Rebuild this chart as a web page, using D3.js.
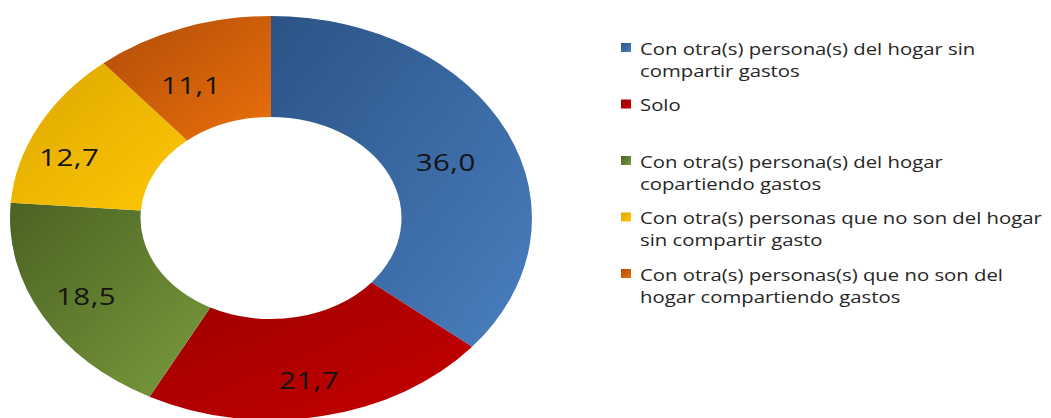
<!DOCTYPE html>
<html>
<head>
<meta charset="utf-8">
<script src="https://cdn.jsdelivr.net/npm/d3@7"></script>
<style>
  html, body { margin: 0; padding: 0; background: #fff; }
  svg { display: block; }
</style>
</head>
<body>
<svg id="chart" width="1051" height="418"></svg>
<script>
// Share of people by living arrangement (%)
const categories = [
  "Con otra(s) persona(s) del hogar sin compartir gastos",
  "Solo",
  "Con otra(s) persona(s) del hogar copartiendo gastos",
  "Con otra(s) personas que no son del hogar sin compartir gasto",
  "Con otra(s) personas(s) que no son del hogar compartiendo gastos"
];
const values = [36.0, 21.7, 18.5, 12.7, 11.1];
const valueLabels = ["36,0", "21,7", "18,5", "12,7", "11,1"];
// Legend text split into lines
const legendLines = [
  ["Con otra(s) persona(s) del hogar sin", "compartir gastos"],
  ["Solo"],
  ["Con otra(s) persona(s) del hogar", "copartiendo gastos"],
  ["Con otra(s) personas que no son del hogar", "sin compartir gasto"],
  ["Con otra(s) personas(s) que no son del", "hogar compartiendo gastos"]
];
// Dark / light stops of each slice's shading
const darkColors  = ["#2b5386", "#9c0000", "#4a6224", "#dca600", "#b04c08"];
const lightColors = ["#4a7fbf", "#c60000", "#7a9c3c", "#ffc805", "#ea700b"];

const svg = d3.select("#chart");
const cx = 271, cy = 218;
const rx = 261, ry = 202;          // elliptical donut
const inner = 0.5;                 // hole size relative to outer radius
const stretch = 1.27;              // wide text rendering

const defs = svg.append("defs");
categories.forEach((c, i) => {
  const g = defs.append("linearGradient")
    .attr("id", "grad" + i)
    .attr("x1", 0).attr("y1", 0).attr("x2", 1).attr("y2", 1);
  g.append("stop").attr("offset", "0%").attr("stop-color", darkColors[i]);
  g.append("stop").attr("offset", "100%").attr("stop-color", lightColors[i]);
});

const pie = d3.pie().sort(null).value(d => d)(values);
const arc = d3.arc().outerRadius(rx).innerRadius(rx * inner);

const donut = svg.append("g")
  .attr("transform", `translate(${cx},${cy}) scale(1,${ry / rx})`);

donut.selectAll("path")
  .data(pie)
  .join("path")
  .attr("d", arc)
  .attr("fill", (d, i) => `url(#grad${i})`);

// Value labels placed on the ring, with small readability nudges
const labelArc = d3.arc().outerRadius(rx * 0.74).innerRadius(rx * 0.74);
const nudge = [[0, 8], [0, 16], [-16, 6], [-30, 8], [-14, 8]];
svg.append("g")
  .selectAll("g")
  .data(pie)
  .join("g")
  .attr("transform", (d, i) => {
    const x = cx + labelArc.centroid(d)[0] + nudge[i][0];
    const y = cy + labelArc.centroid(d)[1] * (ry / rx) + nudge[i][1];
    return `translate(${x},${y}) scale(1.28,1)`;
  })
  .append("text")
  .attr("text-anchor", "middle")
  .attr("dominant-baseline", "central")
  .attr("font-family", "'Open Sans', sans-serif")
  .attr("font-size", 23)
  .attr("fill", "#141414")
  .attr("letter-spacing", 0.4)
  .text((d, i) => valueLabels[i]);

// Legend
const legendX = 621, legendY0 = 48, legendStep = 56.5, lineH = 22;
const legend = svg.append("g");
legendLines.forEach((lines, i) => {
  const y = legendY0 + i * legendStep;
  legend.append("rect")
    .attr("x", legendX).attr("y", y - 5)
    .attr("width", 10).attr("height", 9)
    .attr("fill", `url(#grad${i})`);
  const t = legend.append("g")
    .attr("transform", `translate(${legendX + 19},${y}) scale(${stretch},1)`)
    .append("text")
    .attr("font-family", "'Open Sans', sans-serif")
    .attr("font-size", 16)
    .attr("fill", "#262626");
  lines.forEach((ln, j) => {
    t.append("tspan")
      .attr("x", 0)
      .attr("y", j * lineH)
      .attr("dominant-baseline", "central")
      .text(ln);
  });
});
</script>
</body>
</html>
